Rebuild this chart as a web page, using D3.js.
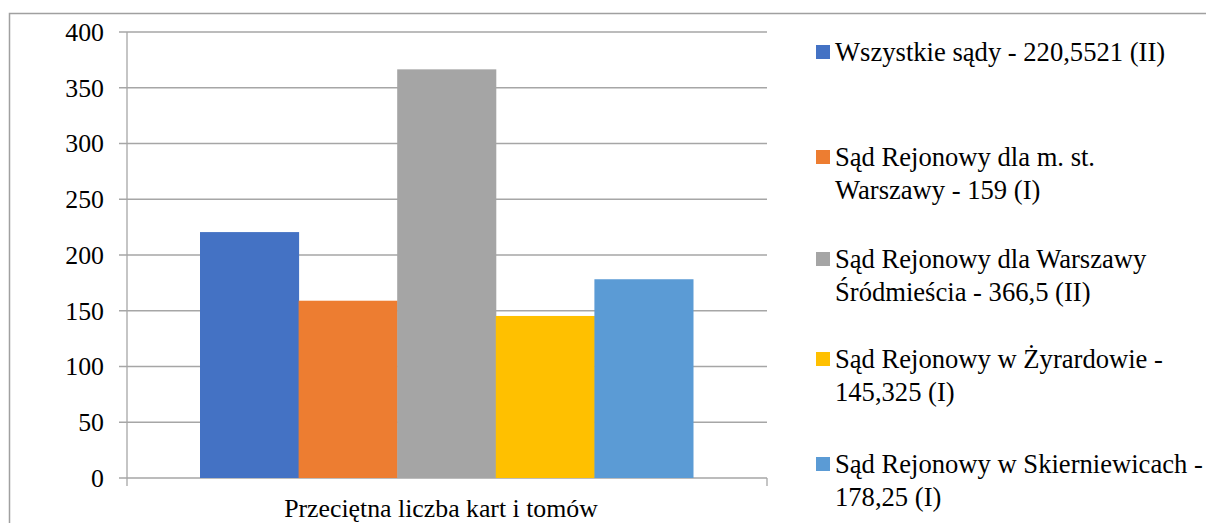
<!DOCTYPE html>
<html><head><meta charset="utf-8">
<script src="https://cdn.jsdelivr.net/npm/d3@7/dist/d3.min.js"></script>
<style>body{margin:0;background:#fff}svg{display:block}</style>
</head><body>
<svg id="c" width="1206" height="523"></svg>
<script>
const category = "Przeciętna liczba kart i tomów";
const seriesNames = [
  ["Wszystkie sądy - 220,5521 (II)"],
  ["Sąd Rejonowy dla m. st.", "Warszawy - 159 (I)"],
  ["Sąd Rejonowy dla Warszawy", "Śródmieścia - 366,5 (II)"],
  ["Sąd Rejonowy w Żyrardowie -", "145,325 (I)"],
  ["Sąd Rejonowy w Skierniewicach -", "178,25 (I)"]
];
const values = [220.5521, 159, 366.5, 145.325, 178.25];
const colors = ["#4472C4", "#ED7D31", "#A5A5A5", "#FFC000", "#5B9BD5"];
const yTicks = [0, 50, 100, 150, 200, 250, 300, 350, 400];

const FONT = "'Liberation Serif', 'Times New Roman', Tinos, 'DejaVu Serif', serif";
const svg = d3.select("#c").attr("font-family", FONT);
const fs = 25.8, lfs = 26.6;
// outer border
svg.append("path").attr("d", "M9.5,530V13.5H1210").attr("fill","none").attr("stroke","#a0a0a0").attr("stroke-width",1.5);

const x0 = 127, x1 = 767, yTop = 32, yBot = 478;
const y = d3.scaleLinear().domain([0, 400]).range([yBot, yTop]);
const xc = d3.scaleBand().domain([category]).range([x0, x1]);
const xs = d3.scaleBand().domain(d3.range(values.length)).range([200, 693]);

// gridlines
svg.append("g").selectAll("line").data(yTicks).join("line")
  .attr("x1", x0 - 8).attr("x2", x1).attr("y1", d => y(d)).attr("y2", d => y(d))
  .attr("stroke", "#a6a6a6").attr("stroke-width", 1.3);
// axis lines
svg.append("line").attr("x1", x0).attr("x2", x0).attr("y1", yTop).attr("y2", yBot + 8).attr("stroke", "#a6a6a6").attr("stroke-width", 1.3);
svg.append("line").attr("x1", x1).attr("x2", x1).attr("y1", yBot).attr("y2", yBot + 8).attr("stroke", "#a6a6a6").attr("stroke-width", 1.3);

// tick labels
svg.append("g").selectAll("text").data(yTicks).join("text")
  .attr("x", 104).attr("y", d => y(d)).attr("dy", "0.34em").attr("text-anchor", "end")
  .attr("font-family", FONT).attr("font-size", fs).attr("fill", "#000").text(d => d);

// bars
svg.append("g").selectAll("rect").data(values).join("rect")
  .attr("x", (d, i) => xs(i)).attr("width", xs.bandwidth() + 0.5)
  .attr("y", d => y(d)).attr("height", d => y(0) - y(d))
  .attr("fill", (d, i) => colors[i]);

// category label
svg.append("text").attr("x", xc(category) + xc.bandwidth() / 2 - 6).attr("y", 517)
  .attr("text-anchor", "middle").attr("font-family", FONT).attr("font-size", fs).attr("fill", "#000").text(category);

// legend
const legY = [52, 157, 259, 359, 464];
const lg = svg.append("g");
seriesNames.forEach((lines, i) => {
  lg.append("rect").attr("x", 816).attr("y", legY[i] - 7).attr("width", 14).attr("height", 14).attr("fill", colors[i]);
  const t = lg.append("text").attr("x", 835).attr("y", legY[i]).attr("font-family", FONT).attr("font-size", lfs).attr("fill", "#000");
  lines.forEach((l, j) => t.append("tspan").attr("x", 835).attr("dy", j === 0 ? "0.34em" : "33px").text(l));
});
</script>
</body></html>
